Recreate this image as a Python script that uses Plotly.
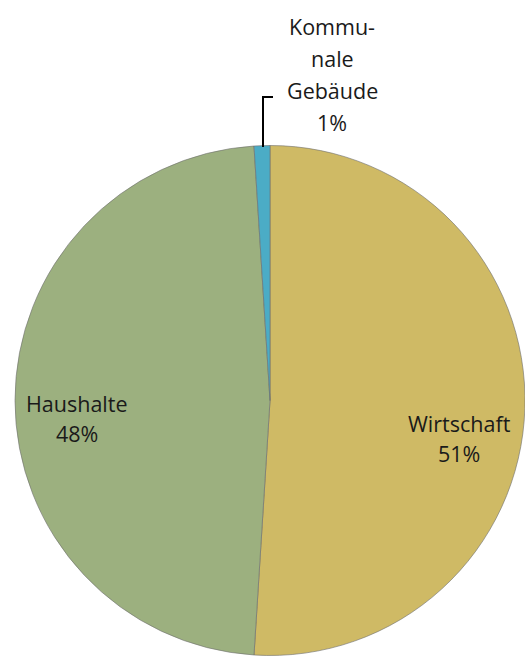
import plotly.graph_objects as go

categories = ["Wirtschaft", "Haushalte", "Kommunale Gebäude"]
values = [51, 48, 1]
label_lines = [["Wirtschaft"], ["Haushalte"], ["Kommu-", "nale", "Gebäude"]]
colors = ["#CFBA65", "#9CB07F", "#4BACC6"]

W, H = 525, 657
OX, OY = 0, 0


def px(x):
    return (x - OX) / W


def py(y):
    return 1 - (y - OY) / H


fig = go.Figure(go.Pie(
    labels=categories,
    values=values,
    sort=False,
    direction="clockwise",
    rotation=0,
    textinfo="none",
    hoverinfo="label+percent",
    marker=dict(colors=colors, line=dict(color="rgba(110,110,110,0.6)", width=1)),
    domain=dict(x=[px(15), px(525)], y=[py(656), py(145)]),
    showlegend=False,
))

total = sum(values)
pcts = [f"{round(v / total * 100)}%" for v in values]

# label anchor positions in pixels (center x, y of first line) and line spacing
label_pos = [(459, 423, 30), (77, 403, 30), (332, 27, 32)]
font = dict(family="Open Sans", size=21.5, color="#1a1a1a")
annotations = []
for lines, pct, (cx, cy, dy) in zip(label_lines, pcts, label_pos):
    for i, t in enumerate(lines + [pct]):
        annotations.append(dict(
            x=px(cx), y=py(cy + i * dy), xref="paper", yref="paper",
            text=t, showarrow=False, font=font, xanchor="center", yanchor="middle",
        ))

fig.update_layout(
    width=W, height=H,
    margin=dict(l=0, r=0, t=0, b=0),
    paper_bgcolor="white",
    plot_bgcolor="white",
    annotations=annotations,
    shapes=[
        dict(type="line", xref="paper", yref="paper",
             x0=px(263), x1=px(263), y0=py(147), y1=py(97),
             line=dict(color="black", width=2)),
        dict(type="line", xref="paper", yref="paper",
             x0=px(262), x1=px(273), y0=py(97), y1=py(97),
             line=dict(color="black", width=2)),
    ],
)

fig.write_html(
    "out.html",
    config={"displayModeBar": False},
    post_script="document.body.style.margin='0';document.body.style.overflow='hidden';",
)
